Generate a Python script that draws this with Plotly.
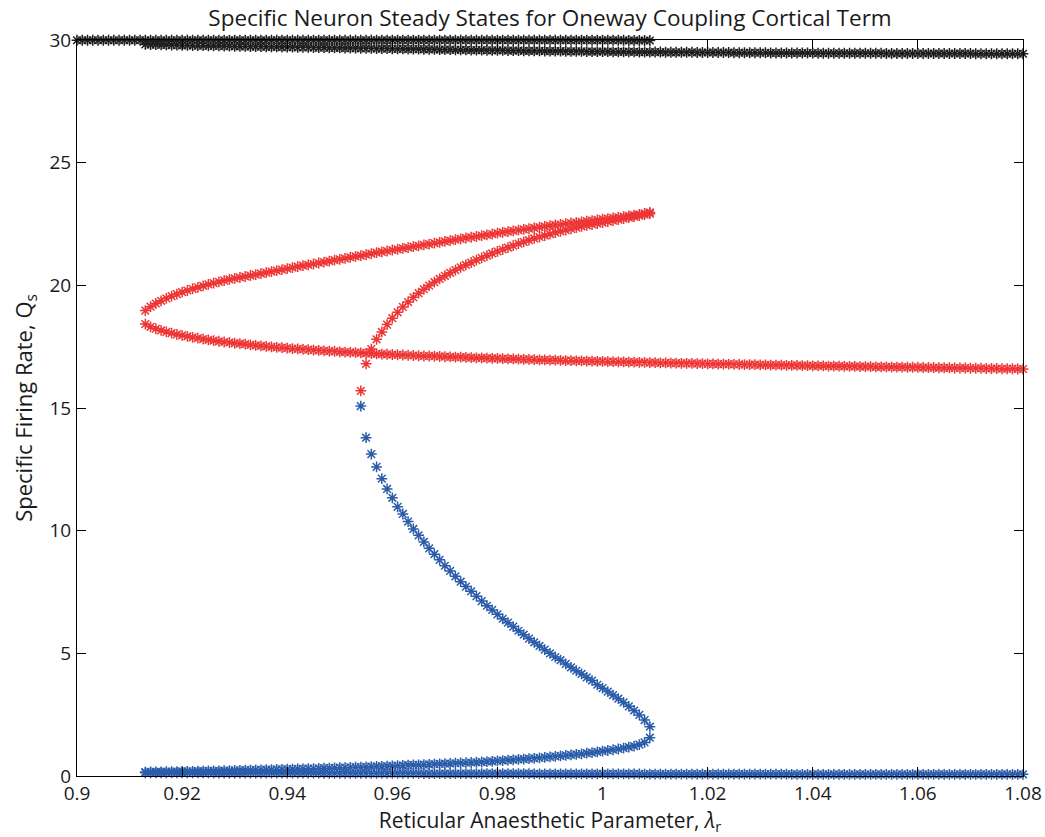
import plotly.graph_objects as go

# Reticular anaesthetic parameter sweep (step 0.001)
LAMBDA = [
    0.900, 0.901, 0.902, 0.903, 0.904, 0.905, 0.906, 0.907, 0.908, 0.909,
    0.910, 0.911, 0.912, 0.913, 0.914, 0.915, 0.916, 0.917, 0.918, 0.919,
    0.920, 0.921, 0.922, 0.923, 0.924, 0.925, 0.926, 0.927, 0.928, 0.929,
    0.930, 0.931, 0.932, 0.933, 0.934, 0.935, 0.936, 0.937, 0.938, 0.939,
    0.940, 0.941, 0.942, 0.943, 0.944, 0.945, 0.946, 0.947, 0.948, 0.949,
    0.950, 0.951, 0.952, 0.953, 0.954, 0.955, 0.956, 0.957, 0.958, 0.959,
    0.960, 0.961, 0.962, 0.963, 0.964, 0.965, 0.966, 0.967, 0.968, 0.969,
    0.970, 0.971, 0.972, 0.973, 0.974, 0.975, 0.976, 0.977, 0.978, 0.979,
    0.980, 0.981, 0.982, 0.983, 0.984, 0.985, 0.986, 0.987, 0.988, 0.989,
    0.990, 0.991, 0.992, 0.993, 0.994, 0.995, 0.996, 0.997, 0.998, 0.999,
    1.000, 1.001, 1.002, 1.003, 1.004, 1.005, 1.006, 1.007, 1.008, 1.009,
    1.010, 1.011, 1.012, 1.013, 1.014, 1.015, 1.016, 1.017, 1.018, 1.019,
    1.020, 1.021, 1.022, 1.023, 1.024, 1.025, 1.026, 1.027, 1.028, 1.029,
    1.030, 1.031, 1.032, 1.033, 1.034, 1.035, 1.036, 1.037, 1.038, 1.039,
    1.040, 1.041, 1.042, 1.043, 1.044, 1.045, 1.046, 1.047, 1.048, 1.049,
    1.050, 1.051, 1.052, 1.053, 1.054, 1.055, 1.056, 1.057, 1.058, 1.059,
    1.060, 1.061, 1.062, 1.063, 1.064, 1.065, 1.066, 1.067, 1.068, 1.069,
    1.070, 1.071, 1.072, 1.073, 1.074, 1.075, 1.076, 1.077, 1.078, 1.079,
    1.080,
]

# Saturated branch, lambda 0.900 .. 1.009
Q_BLACK_TOP = [
    29.99, 29.99, 29.99, 29.99, 29.99, 29.99, 29.99, 29.99, 29.99, 29.99,
    29.99, 29.99, 29.99, 29.99, 29.99, 29.99, 29.99, 29.99, 29.99, 29.99,
    29.99, 29.99, 29.99, 29.99, 29.99, 29.99, 29.99, 29.99, 29.99, 29.99,
    29.99, 29.99, 29.99, 29.99, 29.99, 29.99, 29.99, 29.99, 29.99, 29.99,
    29.99, 29.99, 29.99, 29.99, 29.99, 29.99, 29.99, 29.99, 29.99, 29.99,
    29.99, 29.99, 29.99, 29.99, 29.99, 29.99, 29.99, 29.99, 29.99, 29.99,
    29.99, 29.99, 29.99, 29.99, 29.99, 29.99, 29.99, 29.99, 29.99, 29.99,
    29.99, 29.99, 29.99, 29.99, 29.99, 29.99, 29.99, 29.99, 29.99, 29.99,
    29.99, 29.99, 29.99, 29.99, 29.99, 29.99, 29.99, 29.99, 29.99, 29.99,
    29.99, 29.99, 29.99, 29.99, 29.99, 29.99, 29.99, 29.99, 29.99, 29.99,
    29.99, 29.99, 29.99, 29.99, 29.99, 29.98, 29.98, 29.98, 29.98, 29.98,
]
START_BLACK_TOP = 0.900

# Near-saturated branch, lambda 0.913 .. 1.080
Q_BLACK_LOW = [
    29.82, 29.81, 29.81, 29.80, 29.80, 29.79, 29.79, 29.78, 29.78, 29.77,
    29.77, 29.77, 29.76, 29.76, 29.76, 29.75, 29.75, 29.74, 29.74, 29.74,
    29.73, 29.73, 29.73, 29.72, 29.72, 29.72, 29.71, 29.71, 29.71, 29.70,
    29.70, 29.70, 29.69, 29.69, 29.69, 29.68, 29.68, 29.68, 29.67, 29.67,
    29.67, 29.66, 29.66, 29.66, 29.65, 29.65, 29.65, 29.64, 29.64, 29.64,
    29.63, 29.63, 29.63, 29.62, 29.62, 29.62, 29.61, 29.61, 29.61, 29.60,
    29.60, 29.60, 29.59, 29.59, 29.59, 29.58, 29.58, 29.58, 29.58, 29.57,
    29.57, 29.57, 29.56, 29.56, 29.56, 29.56, 29.55, 29.55, 29.55, 29.55,
    29.54, 29.54, 29.54, 29.54, 29.53, 29.53, 29.53, 29.53, 29.53, 29.52,
    29.52, 29.52, 29.52, 29.52, 29.51, 29.51, 29.51, 29.51, 29.51, 29.50,
    29.50, 29.50, 29.50, 29.50, 29.50, 29.49, 29.49, 29.49, 29.49, 29.49,
    29.49, 29.49, 29.48, 29.48, 29.48, 29.48, 29.48, 29.48, 29.48, 29.47,
    29.47, 29.47, 29.47, 29.47, 29.47, 29.47, 29.47, 29.47, 29.46, 29.46,
    29.46, 29.46, 29.46, 29.46, 29.46, 29.46, 29.46, 29.46, 29.46, 29.46,
    29.46, 29.45, 29.45, 29.45, 29.45, 29.45, 29.45, 29.45, 29.45, 29.45,
    29.45, 29.45, 29.45, 29.45, 29.45, 29.45, 29.45, 29.45, 29.44, 29.44,
    29.44, 29.44, 29.44, 29.44, 29.44, 29.44, 29.44, 29.44,
]
START_BLACK_LOW = 0.913

# Upper red branch, lambda 0.913 .. 1.009
Q_RED_UPPER = [
    18.97, 19.13, 19.26, 19.37, 19.47, 19.56, 19.64, 19.72, 19.79, 19.86,
    19.92, 19.98, 20.04, 20.09, 20.14, 20.19, 20.24, 20.28, 20.32, 20.36,
    20.40, 20.44, 20.48, 20.52, 20.56, 20.60, 20.64, 20.68, 20.72, 20.76,
    20.80, 20.83, 20.87, 20.91, 20.95, 20.99, 21.03, 21.06, 21.10, 21.14,
    21.18, 21.21, 21.25, 21.29, 21.33, 21.36, 21.40, 21.44, 21.47, 21.51,
    21.54, 21.58, 21.61, 21.65, 21.68, 21.72, 21.75, 21.79, 21.82, 21.86,
    21.89, 21.93, 21.96, 21.99, 22.03, 22.06, 22.09, 22.13, 22.16, 22.19,
    22.22, 22.25, 22.28, 22.31, 22.34, 22.37, 22.40, 22.43, 22.46, 22.48,
    22.51, 22.54, 22.56, 22.59, 22.62, 22.64, 22.67, 22.70, 22.72, 22.75,
    22.77, 22.80, 22.83, 22.86, 22.89, 22.93, 22.97,
]
START_RED_UPPER = 0.913

# Lower red branch, lambda 0.913 .. 1.080
Q_RED_LOWER = [
    18.42, 18.31, 18.23, 18.16, 18.10, 18.05, 18.00, 17.96, 17.92, 17.88,
    17.85, 17.81, 17.78, 17.75, 17.72, 17.69, 17.67, 17.64, 17.62, 17.60,
    17.57, 17.55, 17.53, 17.51, 17.49, 17.47, 17.46, 17.44, 17.42, 17.41,
    17.39, 17.38, 17.36, 17.35, 17.33, 17.32, 17.31, 17.29, 17.28, 17.27,
    17.26, 17.25, 17.23, 17.22, 17.21, 17.20, 17.19, 17.18, 17.17, 17.16,
    17.15, 17.14, 17.13, 17.12, 17.12, 17.11, 17.10, 17.09, 17.08, 17.07,
    17.07, 17.06, 17.05, 17.04, 17.04, 17.03, 17.02, 17.02, 17.01, 17.00,
    17.00, 16.99, 16.98, 16.98, 16.97, 16.96, 16.96, 16.95, 16.95, 16.94,
    16.93, 16.93, 16.92, 16.92, 16.91, 16.91, 16.90, 16.90, 16.89, 16.89,
    16.88, 16.88, 16.87, 16.87, 16.86, 16.86, 16.85, 16.85, 16.84, 16.84,
    16.83, 16.83, 16.82, 16.82, 16.82, 16.81, 16.81, 16.80, 16.80, 16.79,
    16.79, 16.79, 16.78, 16.78, 16.77, 16.77, 16.77, 16.76, 16.76, 16.75,
    16.75, 16.75, 16.74, 16.74, 16.74, 16.73, 16.73, 16.72, 16.72, 16.72,
    16.71, 16.71, 16.71, 16.70, 16.70, 16.70, 16.69, 16.69, 16.69, 16.68,
    16.68, 16.68, 16.67, 16.67, 16.67, 16.66, 16.66, 16.66, 16.65, 16.65,
    16.65, 16.64, 16.64, 16.64, 16.63, 16.63, 16.63, 16.62, 16.62, 16.62,
    16.61, 16.61, 16.61, 16.60, 16.60, 16.60, 16.59, 16.59,
]
START_RED_LOWER = 0.913

# Middle branch above Q = 15 (red), lambda 0.954 .. 1.009
Q_RED_MIDDLE = [
    15.70, 16.80, 17.40, 17.80, 18.10, 18.40, 18.66, 18.90, 19.12, 19.32,
    19.51, 19.68, 19.84, 19.99, 20.13, 20.26, 20.39, 20.51, 20.62, 20.73,
    20.83, 20.93, 21.03, 21.12, 21.21, 21.30, 21.38, 21.46, 21.54, 21.62,
    21.70, 21.77, 21.84, 21.91, 21.97, 22.03, 22.09, 22.15, 22.20, 22.25,
    22.30, 22.35, 22.40, 22.44, 22.48, 22.52, 22.56, 22.60, 22.64, 22.68,
    22.72, 22.76, 22.80, 22.84, 22.88, 22.92,
]
START_RED_MIDDLE = 0.954

# Middle branch below Q = 15 (blue), lambda 0.954 .. 1.009
Q_BLUE_MIDDLE = [
    15.08, 13.79, 13.12, 12.60, 12.12, 11.70, 11.34, 10.97, 10.68, 10.37,
    10.07, 9.81, 9.54, 9.28, 9.04, 8.81, 8.57, 8.36, 8.14, 7.92,
    7.72, 7.53, 7.33, 7.13, 6.94, 6.77, 6.59, 6.41, 6.25, 6.09,
    5.92, 5.76, 5.60, 5.45, 5.30, 5.15, 5.00, 4.85, 4.72, 4.57,
    4.43, 4.29, 4.16, 4.02, 3.89, 3.72, 3.58, 3.44, 3.30, 3.15,
    3.00, 2.84, 2.67, 2.49, 2.28, 2.01,
]
START_BLUE_MIDDLE = 0.954

# Lower blue branch, lambda 0.913 .. 1.009
Q_BLUE_LOWER = [
    0.16, 0.17, 0.17, 0.17, 0.18, 0.18, 0.18, 0.19, 0.19, 0.19,
    0.20, 0.20, 0.21, 0.21, 0.21, 0.22, 0.22, 0.23, 0.23, 0.24,
    0.24, 0.25, 0.25, 0.26, 0.26, 0.27, 0.27, 0.28, 0.28, 0.29,
    0.29, 0.30, 0.30, 0.31, 0.32, 0.32, 0.33, 0.34, 0.34, 0.35,
    0.36, 0.36, 0.37, 0.38, 0.39, 0.39, 0.40, 0.41, 0.42, 0.43,
    0.44, 0.45, 0.45, 0.46, 0.47, 0.48, 0.49, 0.50, 0.51, 0.52,
    0.53, 0.54, 0.55, 0.56, 0.57, 0.59, 0.60, 0.62, 0.63, 0.65,
    0.66, 0.68, 0.69, 0.71, 0.72, 0.74, 0.76, 0.78, 0.80, 0.82,
    0.84, 0.86, 0.88, 0.90, 0.93, 0.95, 0.98, 1.01, 1.04, 1.07,
    1.10, 1.14, 1.18, 1.22, 1.28, 1.37, 1.56,
]
START_BLUE_LOWER = 0.913

# Quiescent branch, lambda 0.913 .. 1.080
Q_BLUE_BOTTOM = [
    0.13, 0.13, 0.13, 0.13, 0.13, 0.13, 0.13, 0.13, 0.13, 0.13,
    0.13, 0.13, 0.13, 0.12, 0.12, 0.12, 0.12, 0.12, 0.12, 0.12,
    0.12, 0.12, 0.12, 0.12, 0.12, 0.12, 0.12, 0.12, 0.12, 0.12,
    0.12, 0.12, 0.12, 0.12, 0.11, 0.11, 0.11, 0.11, 0.11, 0.11,
    0.11, 0.11, 0.11, 0.11, 0.11, 0.11, 0.11, 0.11, 0.11, 0.11,
    0.11, 0.11, 0.11, 0.10, 0.10, 0.10, 0.10, 0.10, 0.10, 0.10,
    0.10, 0.10, 0.10, 0.10, 0.10, 0.10, 0.10, 0.10, 0.10, 0.10,
    0.10, 0.10, 0.10, 0.10, 0.09, 0.09, 0.09, 0.09, 0.09, 0.09,
    0.09, 0.09, 0.09, 0.09, 0.09, 0.09, 0.09, 0.09, 0.09, 0.09,
    0.09, 0.09, 0.09, 0.09, 0.09, 0.08, 0.08, 0.08, 0.08, 0.08,
    0.08, 0.08, 0.08, 0.08, 0.08, 0.08, 0.08, 0.08, 0.08, 0.08,
    0.08, 0.08, 0.08, 0.08, 0.08, 0.08, 0.08, 0.08, 0.08, 0.08,
    0.08, 0.08, 0.08, 0.07, 0.07, 0.07, 0.07, 0.07, 0.07, 0.07,
    0.07, 0.07, 0.07, 0.07, 0.07, 0.07, 0.07, 0.07, 0.07, 0.07,
    0.07, 0.07, 0.07, 0.07, 0.07, 0.07, 0.07, 0.07, 0.07, 0.07,
    0.07, 0.07, 0.07, 0.07, 0.07, 0.07, 0.07, 0.07, 0.07, 0.07,
    0.07, 0.07, 0.07, 0.07, 0.07, 0.07, 0.07, 0.07,
]
START_BLUE_BOTTOM = 0.913

X_TICKS = [0.90, 0.92, 0.94, 0.96, 0.98, 1.00, 1.02, 1.04, 1.06, 1.08]
X_TICK_TEXT = ["0.9", "0.92", "0.94", "0.96", "0.98", "1", "1.02", "1.04", "1.06", "1.08"]
Y_TICKS = [0, 5, 10, 15, 20, 25, 30]

BLACK = "#1e1e1e"
RED = "#ee3535"
BLUE = "#2a5caa"
TEXT = "#1a1a1a"
FONT = "Open Sans"


def lam_for(start, values):
    i0 = LAMBDA.index(start)
    return LAMBDA[i0:i0 + len(values)]


branches = [
    (START_BLACK_TOP, Q_BLACK_TOP, BLACK),
    (START_BLACK_LOW, Q_BLACK_LOW, BLACK),
    (START_BLUE_BOTTOM, Q_BLUE_BOTTOM, BLUE),
    (START_BLUE_LOWER, Q_BLUE_LOWER, BLUE),
    (START_BLUE_MIDDLE, Q_BLUE_MIDDLE, BLUE),
    (START_RED_LOWER, Q_RED_LOWER, RED),
    (START_RED_UPPER, Q_RED_UPPER, RED),
    (START_RED_MIDDLE, Q_RED_MIDDLE, RED),
]

fig = go.Figure()
for start, q, col in branches:
    fig.add_trace(go.Scatter(
        x=lam_for(start, q), y=q, mode="markers",
        marker=dict(symbol="asterisk-open", size=9, color=col,
                    line=dict(width=1.5, color=col)),
        cliponaxis=False, showlegend=False, hoverinfo="skip",
    ))

axis_common = dict(
    showline=True, linecolor="black", linewidth=1, mirror="allticks",
    ticks="inside", ticklen=9, tickwidth=1, tickcolor="black",
    showgrid=False, zeroline=False, automargin=False,
    tickfont=dict(family=FONT, size=19, color=TEXT),
)

fig.update_layout(
    width=1045, height=837,
    margin=dict(l=77, r=22, t=40, b=61),
    paper_bgcolor="white", plot_bgcolor="white",
    title=dict(
        text="Specific Neuron Steady States for Oneway Coupling Cortical Term",
        x=0.5, xref="paper", xanchor="center",
        y=0.978, yref="container", yanchor="middle",
        font=dict(family=FONT, size=22.5, color=TEXT),
    ),
    xaxis=dict(
        range=[0.9, 1.08], tickvals=X_TICKS, ticktext=X_TICK_TEXT,
        ticklabelstandoff=0,
        title=dict(text="Reticular Anaesthetic Parameter, <i>λ</i><sub>r</sub>",
                   font=dict(family=FONT, size=21, color=TEXT), standoff=8),
        **axis_common,
    ),
    yaxis=dict(
        range=[0, 30], tickvals=Y_TICKS, ticklabelstandoff=1,
        title=dict(text="Specific Firing Rate, Q<sub>s</sub>",
                   font=dict(family=FONT, size=22, color=TEXT), standoff=10),
        **axis_common,
    ),
)

fig.write_html("out.html")
